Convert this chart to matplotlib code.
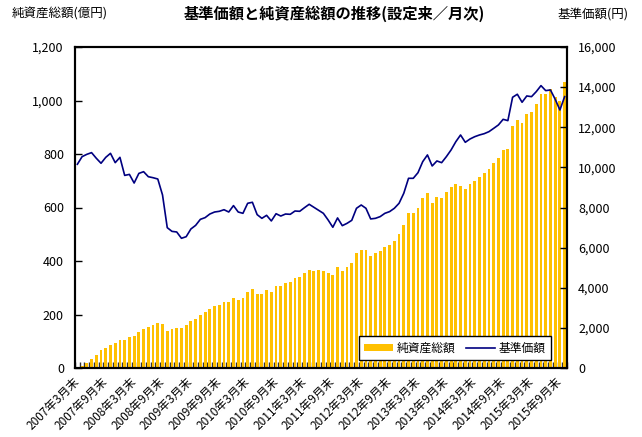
import matplotlib
matplotlib.use('Agg')
import matplotlib.pyplot as plt
from matplotlib.ticker import FuncFormatter, FixedLocator
from matplotlib.patches import Patch
from matplotlib.lines import Line2D
import numpy as np

plt.rcParams['font.family'] = ['Noto Sans CJK JP', 'DejaVu Sans']

# monthly categories: 2007-03 ... 2015-10 (104 months)
months = []
for yr in range(2007, 2016):
    for mo in range(1, 13):
        if (yr == 2007 and mo < 3) or (yr == 2015 and mo > 10):
            continue
        months.append(f"{yr}年{mo}月末")

# 純資産総額 (億円)
net_assets = [4, 9, 17, 34, 47, 66, 76, 87, 92, 104,
              104, 115, 119, 134, 147, 152, 162, 170, 165, 140,
              145, 151, 149, 159, 175, 185, 199, 209, 222, 230,
              237, 245, 246, 262, 256, 261, 284, 294, 276, 277,
              290, 284, 306, 306, 317, 321, 336, 339, 354, 365,
              362, 365, 362, 355, 349, 379, 364, 379, 394, 430,
              442, 440, 419, 429, 437, 452, 461, 475, 501, 536,
              578, 579, 600, 634, 654, 618, 638, 636, 658, 678,
              687, 679, 669, 688, 700, 715, 729, 744, 765, 785,
              815, 819, 905, 926, 915, 951, 957, 987, 1025, 1023,
              1044, 1012, 1000, 1069]

# 基準価額 (円)
nav = [10155, 10535, 10650, 10735, 10455, 10205, 10500, 10700, 10235, 10500,
       9600, 9650, 9220, 9700, 9785, 9535, 9485, 9420, 8625, 6995,
       6810, 6780, 6465, 6545, 6930, 7110, 7410, 7495, 7675, 7775,
       7810, 7890, 7775, 8095, 7775, 7710, 8210, 8260, 7645, 7460,
       7610, 7330, 7690, 7575, 7675, 7660, 7825, 7810, 7990, 8160,
       8010, 7860, 7710, 7380, 7015, 7480, 7095, 7210, 7360, 7960,
       8125, 7960, 7430, 7460, 7545, 7710, 7795, 7960, 8210, 8710,
       9455, 9455, 9735, 10285, 10620, 10070, 10320, 10235, 10535, 10870,
       11280, 11615, 11250, 11415, 11530, 11615, 11680, 11780, 11945, 12115,
       12395, 12330, 13495, 13645, 13245, 13560, 13525, 13775, 14075, 13825,
       13860, 13395, 12860, 13525]

tick_labels = ["2007年3月末", "2007年9月末", "2008年3月末", "2008年9月末",
               "2009年3月末", "2009年9月末", "2010年3月末", "2010年9月末",
               "2011年3月末", "2011年9月末", "2012年3月末", "2012年9月末",
               "2013年3月末", "2013年9月末", "2014年3月末", "2014年9月末",
               "2015年3月末", "2015年9月末"]

bar_color = '#FFC000'
line_color = '#000080'

fig = plt.figure(figsize=(6.42, 4.37), dpi=100)
ax = fig.add_axes([75/642, 1-368/437, 492/642, 321/437])
ax2 = ax.twinx()

x = np.arange(len(months))
ax.bar(x, net_assets, width=0.6, color=bar_color, zorder=2)
ax2.plot(x, nav, color=line_color, linewidth=1.2, zorder=3)

ax.set_xlim(-0.5, len(months) - 0.5)
ax.set_ylim(0, 1200)
ax2.set_ylim(0, 16000)
ax.set_yticks(np.arange(0, 1201, 200))
ax2.set_yticks(np.arange(0, 16001, 2000))
fmt = FuncFormatter(lambda v, p: f"{int(v):,}")
ax.yaxis.set_major_formatter(fmt)
ax2.yaxis.set_major_formatter(fmt)

tick_pos = [months.index(l) for l in tick_labels]
ax.set_xticks(tick_pos)
ax.set_xticklabels(tick_labels, rotation=45, ha='right', va='center',
                   rotation_mode='anchor', fontsize=8.5)
ax.xaxis.set_minor_locator(FixedLocator(np.arange(-0.5, len(months), 1.0)))
ax.tick_params(axis='x', which='major', length=0, pad=8)
ax.tick_params(axis='x', which='minor', length=4, direction='in', width=1, color='#333333')
ax.tick_params(axis='y', direction='in', length=5, width=1, labelsize=9, pad=8)
ax2.tick_params(axis='y', direction='in', length=5, width=1, labelsize=9, pad=8)

for a in (ax, ax2):
    for s in a.spines.values():
        s.set_linewidth(1.5)
        s.set_color('black')

handles = [Patch(facecolor=bar_color, edgecolor='none', label='純資産総額'),
           Line2D([0], [0], color=line_color, linewidth=1.2, label='基準価額')]
leg = ax2.legend(handles=handles, loc='lower right', bbox_to_anchor=(0.9675, 0.025),
                 ncol=2, fontsize=8.5, frameon=True, fancybox=False,
                 edgecolor='black', framealpha=1, borderpad=0.45,
                 handlelength=2.45, handleheight=0.55, handletextpad=0.3,
                 columnspacing=0.9, borderaxespad=0)
leg.get_frame().set_linewidth(1.0)

fig.text(12/642, 1-14/437, '純資産総額(億円)', ha='left', va='center', fontsize=9)
fig.text(334/642, 1-14/437, '基準価額と純資産総額の推移(設定来／月次)',
         ha='center', va='center', fontsize=11, fontweight='bold')
fig.text(628/642, 1-14/437, '基準価額(円)', ha='right', va='center', fontsize=9)

fig.savefig('out.png', dpi=100)
